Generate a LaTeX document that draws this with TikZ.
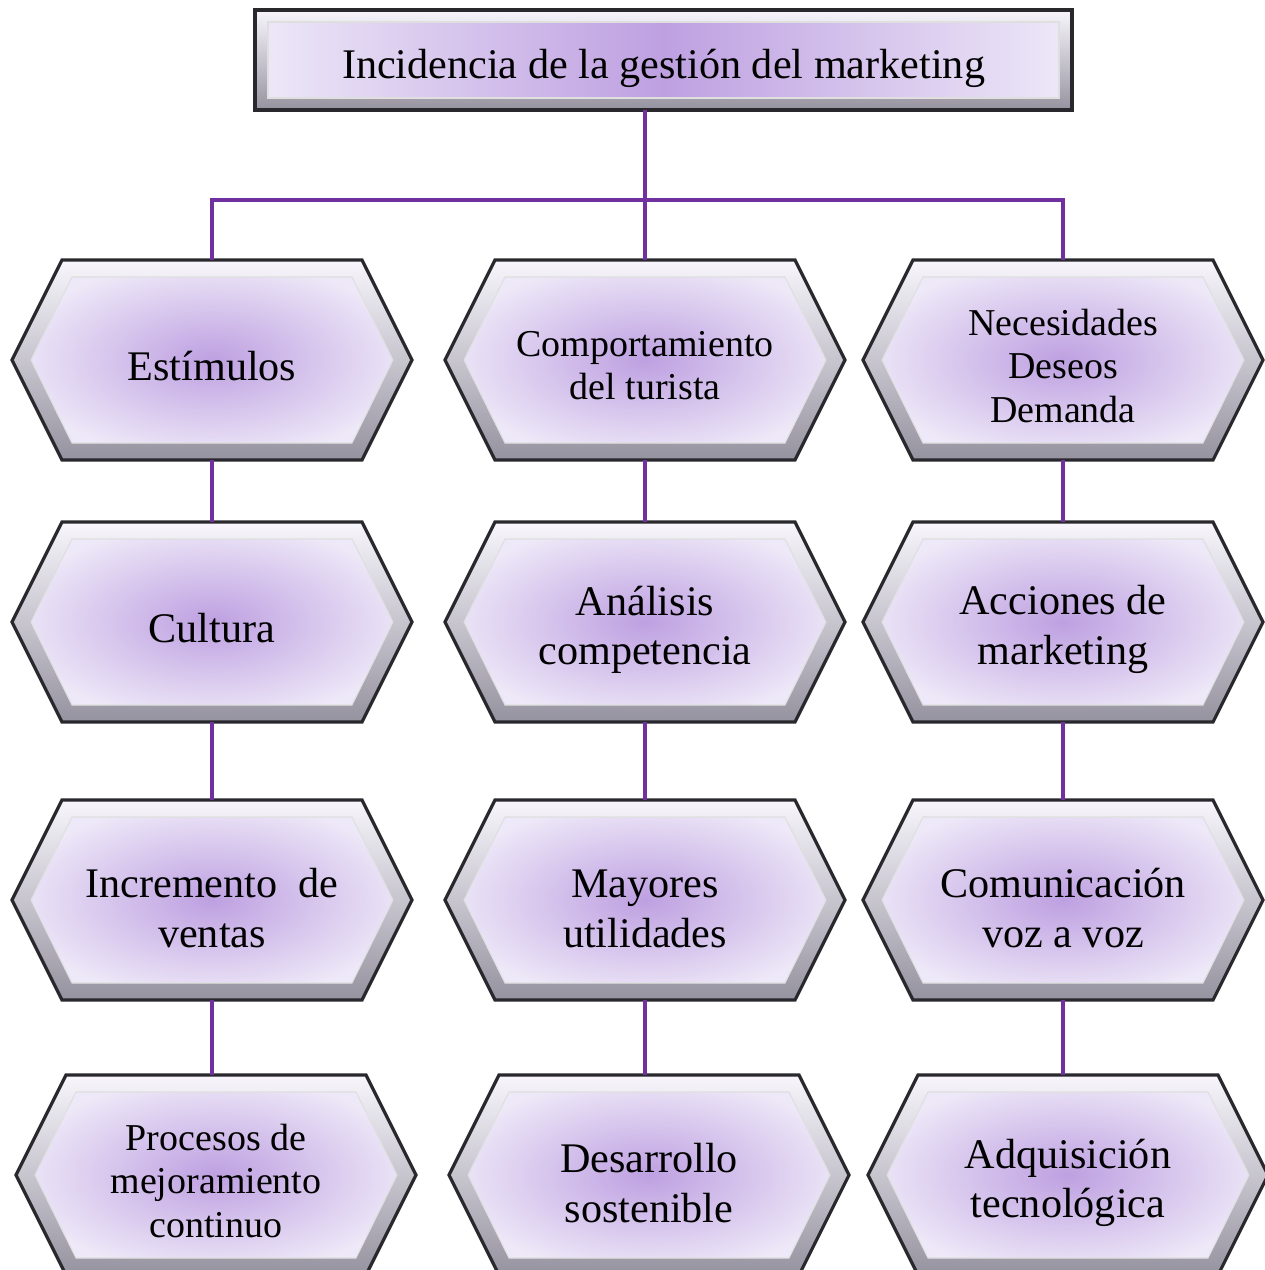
\documentclass[tikz,border=0pt]{standalone}
\usepackage{fontspec}
\setmainfont{Liberation Serif}
\usetikzlibrary{calc,shapes.symbols}
\definecolor{linea}{RGB}{112,48,160}
\definecolor{lila}{RGB}{190,160,225}
\definecolor{lilaclaro}{RGB}{238,233,248}
\definecolor{borde}{RGB}{40,40,45}
\definecolor{biselclaro}{RGB}{248,246,252}
\definecolor{biseloscuro}{RGB}{150,147,160}
\newcommand{\grande}{\fontsize{12}{14.2}\selectfont}
\newcommand{\chica}{\fontsize{10.8}{12.3}\selectfont}

\begin{document}
\begin{tikzpicture}[x=1cm,y=1cm,
	bisel/.style={draw=borde, line width=0.9pt, top color=biselclaro, bottom color=biseloscuro},
	relleno/.style={draw=white!75!gray, line width=0.3pt, inner color=lila, outer color=lilaclaro},
	rellenotit/.style={draw=white!75!gray, line width=0.3pt, left color=lilaclaro, right color=lilaclaro, middle color=lila},
	titulo/.style={rectangle, minimum width=8.17cm, minimum height=1cm, inner sep=0pt, outer sep=0pt, font=\grande, text height=13.2pt, bisel,
		path picture={\path[rellenotit] ($(path picture bounding box.north west)+(0.13,-0.12)$) rectangle ($(path picture bounding box.south east)+(-0.13,0.12)$);}},
	hexa/.style={signal, signal to=west and east, signal pointer angle=126.87, minimum width=4cm, minimum height=2cm, inner sep=0pt, outer sep=0pt, align=center, font=\grande, text height=12pt, bisel,
		path picture={\path[relleno] ($(path picture bounding box.west)+(0.19,0)$) -- ($(path picture bounding box.north west)+(0.6,-0.17)$) -- ($(path picture bounding box.north east)+(-0.6,-0.17)$) -- ($(path picture bounding box.east)+(-0.19,0)$) -- ($(path picture bounding box.south east)+(-0.6,0.17)$) -- ($(path picture bounding box.south west)+(0.6,0.17)$) -- cycle;}},
	dos/.style={text height=27pt},
	doschica/.style={font=\chica, text height=22.5pt},
	treschica/.style={font=\chica, text height=35.4pt},
	conector/.style={draw=linea, line width=1.2pt}]
	\useasboundingbox (0,0) rectangle (12.65,-12.70);
	% Titulo
	\node[titulo] (tit) at (6.635,-0.60) {Incidencia de la gestión del marketing};
	% Columna izquierda
	\node[hexa] (est) at (2.12,-3.60) {Estímulos};
	\node[hexa] (cul) at (2.12,-6.22) {Cultura};
	\node[hexa, dos] (inc) at (2.12,-9.00) {Incremento \ de\\ ventas};
	\node[hexa, treschica] (pro) at (2.16,-11.75) {Procesos de\\ mejoramiento\\ continuo};
	% Columna central
	\node[hexa, doschica] (com) at (6.45,-3.60) {Comportamiento\\ del turista};
	\node[hexa, dos] (ana) at (6.45,-6.22) {Análisis\\ competencia};
	\node[hexa, dos] (may) at (6.45,-9.00) {Mayores\\ utilidades};
	\node[hexa, dos] (des) at (6.49,-11.75) {Desarrollo\\ sostenible};
	% Columna derecha
	\node[hexa, treschica] (nec) at (10.63,-3.60) {Necesidades\\ Deseos\\ Demanda};
	\node[hexa, dos] (acc) at (10.63,-6.22) {Acciones de\\ marketing};
	\node[hexa, dos] (cmv) at (10.63,-9.00) {Comunicación\\ voz a voz};
	\node[hexa, dos] (adq) at (10.68,-11.75) {Adquisición\\ tecnológica};
	% Lineas
	\coordinate (barra) at (6.45,-2.00);
	\draw[conector] (tit.south -| barra) -- (com.north);
	\draw[conector] (est.north) |- (barra) -| (nec.north);
	\draw[conector] (est.south) -- (cul.north);
	\draw[conector] (cul.south) -- (inc.north);
	\draw[conector] (inc.south) -- (inc.south |- pro.north);
	\draw[conector] (com.south) -- (ana.north);
	\draw[conector] (ana.south) -- (may.north);
	\draw[conector] (may.south) -- (may.south |- des.north);
	\draw[conector] (nec.south) -- (acc.north);
	\draw[conector] (acc.south) -- (cmv.north);
	\draw[conector] (cmv.south) -- (cmv.south |- adq.north);
\end{tikzpicture}
\end{document}
